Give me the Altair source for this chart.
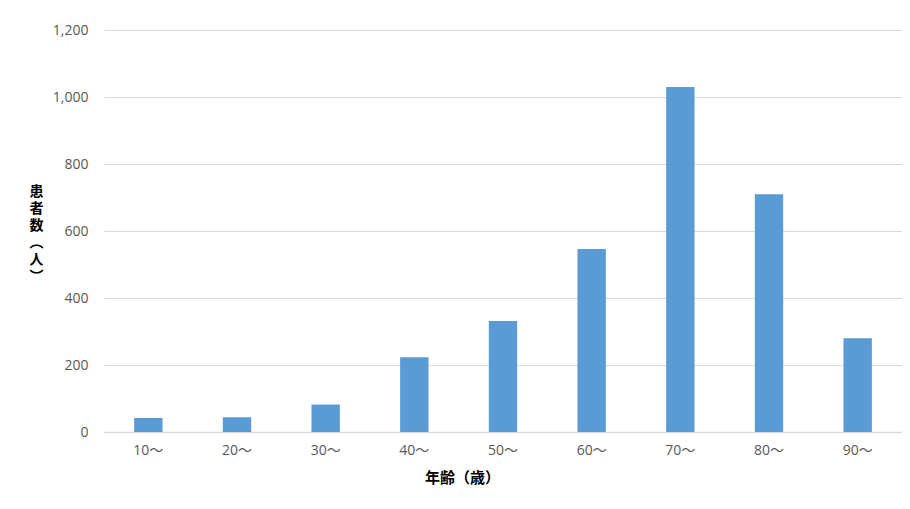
import altair as alt
import pandas as pd

ages = ["10～", "20～", "30～", "40～", "50～", "60～", "70～", "80～", "90～"]
patients = [42, 44, 82, 223, 331, 546, 1030, 710, 280]
y_ticks = [0, 200, 400, 600, 800, 1000, 1200]
y_title = ["患", "者", "数", "︵", "人", "︶"]
x_title = "年齢（歳）"

df = pd.DataFrame({"age": ages, "n": patients})

label_font = "'Open Sans', 'Noto Sans CJK JP'"

chart = alt.Chart(df).mark_bar(color="#5b9bd5").encode(
    x=alt.X("age:N", sort=ages,
            scale=alt.Scale(paddingInner=0.68, paddingOuter=0.34),
            axis=alt.Axis(title=x_title, labelAngle=0, ticks=False,
                          domainColor="#d9d9d9", domainWidth=1.5,
                          labelFont=label_font, labelFontSize=14, labelColor="#595959",
                          labelPadding=11,
                          titleFont="Noto Sans CJK JP", titleFontSize=15, titleFontWeight="bold",
                          titleColor="#000000", titleAnchor="start", titleAlign="center",
                          titleX=358, titleY=45, titleBaseline="middle")),
    y=alt.Y("n:Q",
            scale=alt.Scale(domain=[0, 1200], nice=False),
            axis=alt.Axis(title=y_title, values=y_ticks, format=",.0f", ticks=False, domain=False,
                          gridColor="#d9d9d9", gridWidth=1.2,
                          labelFont=label_font, labelFontSize=14, labelColor="#595959",
                          labelPadding=16,
                          titleFont="Noto Sans CJK JP", titleFontSize=14, titleFontWeight="bold",
                          titleColor="#000000", titleAngle=0, titleAlign="center",
                          titleBaseline="top", titleX=-68, titleY=154, titleLineHeight=17)),
).properties(
    width=798, height=402,
    autosize=alt.AutoSizeParams(type="none"),
    padding={"left": 96, "top": 22, "right": 0, "bottom": 60},
).configure_view(stroke=None)

chart.save("out.html", embed_options={"renderer": "svg", "actions": False})
